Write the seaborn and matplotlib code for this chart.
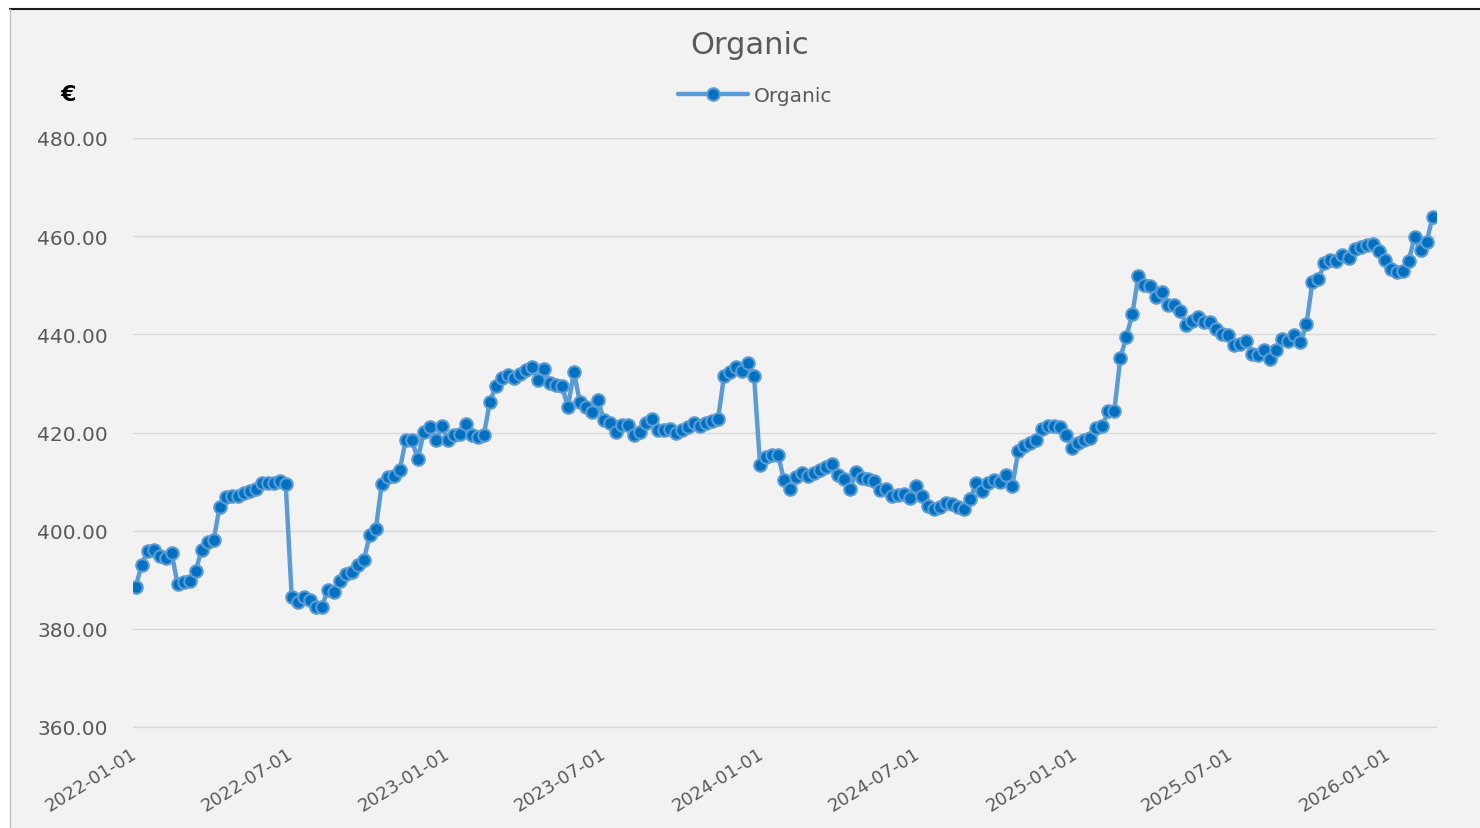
import matplotlib
matplotlib.use("Agg")
import matplotlib.pyplot as plt
import matplotlib.dates as mdates
from matplotlib.lines import Line2D
import seaborn as sns
import pandas as pd

# weekly prices
prices = [
    388.5, 393.0, 395.9, 396.1, 394.8, 394.4, 395.4, 389.1, 389.5, 389.7,
    391.8, 396.1, 397.7, 398.1, 404.8, 406.9, 407.1, 407.1, 407.7, 408.1,
    408.5, 409.7, 409.7, 409.7, 410.1, 409.5,
    386.5, 385.5, 386.5, 385.9, 384.4, 384.4, 387.9, 387.5, 389.7, 391.2,
    391.6, 393.0, 394.0, 399.1, 400.3, 409.5, 410.9, 411.1, 412.4, 418.5,
    418.5, 414.6, 420.1, 421.2, 418.5, 421.3, 418.5, 419.5, 419.7, 421.7,
    419.5, 419.1, 419.5,
    426.2, 429.5, 431.1, 431.7, 431.1, 431.9, 432.7, 433.3, 430.7, 432.9,
    430.1, 429.7, 429.5, 425.2, 432.3, 426.2, 425.2, 424.2, 426.6, 422.5,
    421.9, 420.1, 421.5, 421.5, 419.5, 420.1, 421.9, 422.7, 420.5, 420.5,
    420.7, 419.9, 420.5, 421.1, 421.9, 421.3, 421.9, 422.3, 422.7, 431.5,
    432.3, 433.3, 432.5, 434.2, 431.5,
    413.4, 415.0, 415.4, 415.4, 410.3, 408.5, 410.9, 411.7, 411.1, 411.7,
    412.4, 413.0, 413.6, 411.3, 410.5, 408.5, 411.9, 410.7, 410.5, 410.1,
    408.3, 408.5, 407.1, 407.3, 407.5, 406.7, 409.0, 407.1, 405.0, 404.4,
    404.8, 405.6, 405.4, 404.8, 404.4, 406.4, 409.7, 408.1, 409.7, 410.3,
    409.9, 411.3, 409.0,
    416.2, 417.2, 417.9, 418.5, 420.7, 421.3, 421.3, 421.1, 419.5, 416.8,
    417.9, 418.5, 418.9, 420.9, 421.3, 424.4, 424.4, 435.2, 439.5, 444.1,
    451.9, 450.0, 449.8, 447.6, 448.6, 446.0, 446.0, 444.8, 441.9, 442.7,
    443.5, 442.5, 442.5, 441.1, 440.1, 439.9, 437.8, 438.0, 438.6, 436.0,
    435.8, 436.8, 435.0, 436.8, 439.0, 438.6, 439.9, 438.4, 442.1, 450.7,
    451.3, 454.5, 455.1, 454.9, 456.2, 455.5, 457.4, 457.8, 458.2, 458.4,
    457.0, 455.1, 453.3, 452.7, 452.9, 454.9, 459.8, 457.2, 458.8, 463.9,
]
weeks = pd.date_range("2022-01-01", periods=len(prices), freq="7D")
tick_dates = pd.date_range("2022-01-01", "2026-01-01", freq="6MS")
y_ticks = [360, 380, 400, 420, 440, 460, 480]

df = pd.DataFrame({"date": weeks, "price": prices})

sns.set_style("white")
plt.rcParams["font.family"] = ["DejaVu Sans"]

txt = "#595959"
line_c = "#5b9bd5"
dot_c = "#0070c0"

fig = plt.figure(figsize=(14.8, 8.29), dpi=100, facecolor="white")
# chart area background + frame
bg = plt.Rectangle((10 / 1480, 0), 1, 1 - 10 / 829, transform=fig.transFigure,
                   facecolor="#f2f2f2", edgecolor="none", zorder=-10)
fig.add_artist(bg)
fig.add_artist(Line2D([10 / 1480, 1], [1 - 10 / 829] * 2, color="#1a1a1a", lw=1.5, zorder=-5))
fig.add_artist(Line2D([10 / 1480] * 2, [0, 1 - 10 / 829], color="#bfbfbf", lw=1, zorder=-5))

ax = fig.add_axes([133 / 1480, 1 - 728 / 829, (1436 - 133) / 1480, (728 - 139) / 829])
ax.set_facecolor("#f2f2f2")

sns.lineplot(data=df, x="date", y="price", ax=ax, color=line_c, linewidth=3.2,
             marker="o", markersize=9, markerfacecolor=dot_c, markeredgecolor=line_c,
             markeredgewidth=1.5, label="Organic", legend=False)

ax.set_xlim(pd.Timestamp("2021-12-29"), pd.Timestamp("2026-02-25"))
ax.set_ylim(360, 480)
ax.set_yticks(y_ticks)
ax.set_yticklabels([f"{v:.2f}" for v in y_ticks], color=txt, fontsize=14.5)
ax.set_xticks(tick_dates)
ax.xaxis.set_major_formatter(mdates.DateFormatter("%Y-%m-%d"))
for lab in ax.get_xticklabels():
    lab.set_rotation(32)
    lab.set_ha("right")
    lab.set_va("center")
    lab.set_rotation_mode("anchor")
    lab.set_color(txt)
    lab.set_fontsize(13)

ax.tick_params(axis="y", length=0, pad=18)
ax.tick_params(axis="x", direction="inout", length=6, color="#d9d9d9", pad=15)
ax.grid(axis="y", color="#d9d9d9", linewidth=1)
ax.set_axisbelow(True)
for s in ["top", "right", "left"]:
    ax.spines[s].set_visible(False)
ax.spines["bottom"].set_color("#d9d9d9")
ax.spines["bottom"].set_linewidth(1)
ax.set_xlabel("")
ax.set_ylabel("")

fig.text(750 / 1480, 1 - 46 / 829, "Organic", ha="center", va="center", fontsize=22, color=txt)
fig.text(68 / 1480, 1 - 95 / 829, "€", ha="center", va="center", fontsize=16,
         fontweight="bold", color="black")

handle = Line2D([], [], color=line_c, linewidth=3.2, marker="o", markersize=9,
                markerfacecolor=dot_c, markeredgecolor=line_c, markeredgewidth=1.5)
fig.legend([handle], ["Organic"], loc="center", bbox_to_anchor=(755 / 1480, 1 - 97 / 829),
           frameon=False, fontsize=14.5, handlelength=3.5, handletextpad=0.3,
           labelcolor=txt)

fig.savefig("out.png", dpi=100, facecolor=fig.get_facecolor())
